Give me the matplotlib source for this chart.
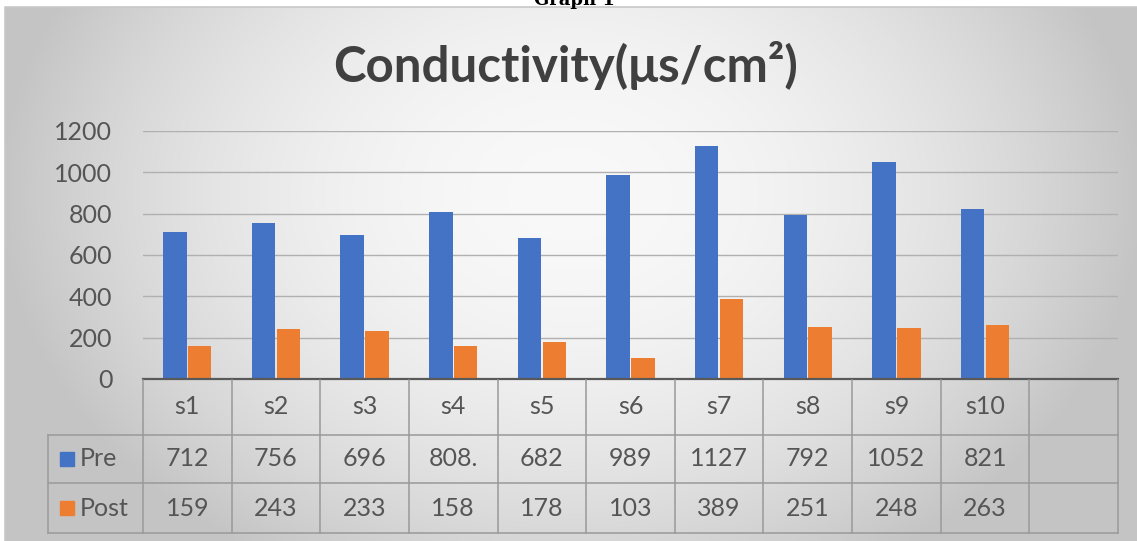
import numpy as np
import matplotlib
matplotlib.use("Agg")
import matplotlib.pyplot as plt
from matplotlib.patches import Rectangle

# ---- data ----
categories = ["s1", "s2", "s3", "s4", "s5", "s6", "s7", "s8", "s9", "s10"]
pre = [712, 756, 696, 808, 682, 989, 1127, 792, 1052, 821]
post = [159, 243, 233, 158, 178, 103, 389, 251, 248, 263]
pre_text = ["712", "756", "696", "808.", "682", "989", "1127", "792", "1052", "821"]
post_text = ["159", "243", "233", "158", "178", "103", "389", "251", "248", "263"]
series_names = ["Pre", "Post"]
yticks = [0, 200, 400, 600, 800, 1000, 1200]
title = "Conductivity(\u03bcs/cm\u00b2)"

W, H = 1137, 541
FONT = ["Lato", "DejaVu Sans"]
TXT = "#555555"
BLUE = "#4472C4"
ORANGE = "#ED7D31"

fig = plt.figure(figsize=(W / 100, H / 100), dpi=100)

# background (pixel coordinates)
bg = fig.add_axes([0, 0, 1, 1])
bg.set_xlim(0, W)
bg.set_ylim(H, 0)
bg.axis("off")
bg.add_patch(Rectangle((0, 0), W, H, color="white", zorder=0))
ny, nx = 200, 400
yy, xx = np.mgrid[0:1:ny * 1j, 0:1:nx * 1j]
r2 = ((xx - 0.5) / 0.5) ** 2 + ((yy - 0.35) / 0.8) ** 2
val = np.clip(0.975 - 0.2 * r2, 0.77, 1)
img = np.dstack([val, val, val])
bg.imshow(img, extent=(5, W, H, 7), aspect="auto", zorder=1, interpolation="bicubic")
bg.plot([5, 5, W], [H, 7, 7], color="#c8c8c8", lw=1.2, zorder=2)
fig.text(0.505, 1.0, "Graph 1", ha="center", va="center", fontsize=13,
         fontweight="bold", family="DejaVu Serif", color="black")

# title
fig.text(566 / W, 1 - 66 / H, title, ha="center", va="center", fontsize=35.5,
         fontweight="bold", color="#404040", family=FONT)

# main plot
left, right, base, top = 143, 1118, 379, 131
ax = fig.add_axes([left / W, 1 - base / H, (right - left) / W, (base - top) / H])
ax.set_facecolor("none")
n_slots = len(categories) + 1
x = np.arange(len(categories))
w = 0.265
ax.bar(x - 0.14, pre, w, color=BLUE, zorder=3)
ax.bar(x + 0.14, post, w, color=ORANGE, zorder=3)
ax.set_xlim(-0.5, n_slots - 0.5)
ax.set_ylim(0, 1200)
ax.set_yticks(yticks)
ax.set_yticklabels([str(t) for t in yticks], family=FONT, fontsize=18, color=TXT)
ax.tick_params(axis="y", length=0, pad=22)
ax.set_xticks([])
for t in yticks[1:]:
    ax.axhline(t, color="#b0b0b0", lw=1, zorder=1)
for s in ["top", "right", "left"]:
    ax.spines[s].set_visible(False)
ax.spines["bottom"].set_color("#595959")
ax.spines["bottom"].set_linewidth(1.6)
ax.spines["bottom"].set_zorder(4)

# data table (pixel coordinates)
tab = fig.add_axes([0, 0, 1, 1], zorder=5)
tab.set_xlim(0, W)
tab.set_ylim(H, 0)
tab.axis("off")
tab.set_facecolor("none")
slot = (right - left) / n_slots
row_y = [379, 435, 483, 533]
label_left = 48
lc = "#999999"
for i in range(n_slots + 1):
    xe = left + i * slot
    tab.plot([xe, xe], [row_y[0] + 1, row_y[3]], color=lc, lw=1.1)
tab.plot([label_left, label_left], [row_y[1], row_y[3]], color=lc, lw=1.1)
for yv in row_y[1:]:
    tab.plot([label_left, right], [yv, yv], color=lc, lw=1.1)

def cy(i):
    return (row_y[i] + row_y[i + 1]) / 2

for i, c in enumerate(categories):
    xc = left + (i + 0.5) * slot
    tab.text(xc, cy(0), c, ha="center", va="center", fontsize=18, color=TXT, family=FONT)
    tab.text(xc, cy(1), pre_text[i], ha="center", va="center", fontsize=18, color=TXT, family=FONT)
    tab.text(xc, cy(2), post_text[i], ha="center", va="center", fontsize=18, color=TXT, family=FONT)

for k, (name, col) in enumerate(zip(series_names, [BLUE, ORANGE])):
    yc = cy(k + 1)
    tab.add_patch(Rectangle((60, yc - 7), 14, 14, color=col))
    tab.text(80, yc, name, ha="left", va="center", fontsize=18, color=TXT, family=FONT)

fig.savefig("out.png", dpi=100)
